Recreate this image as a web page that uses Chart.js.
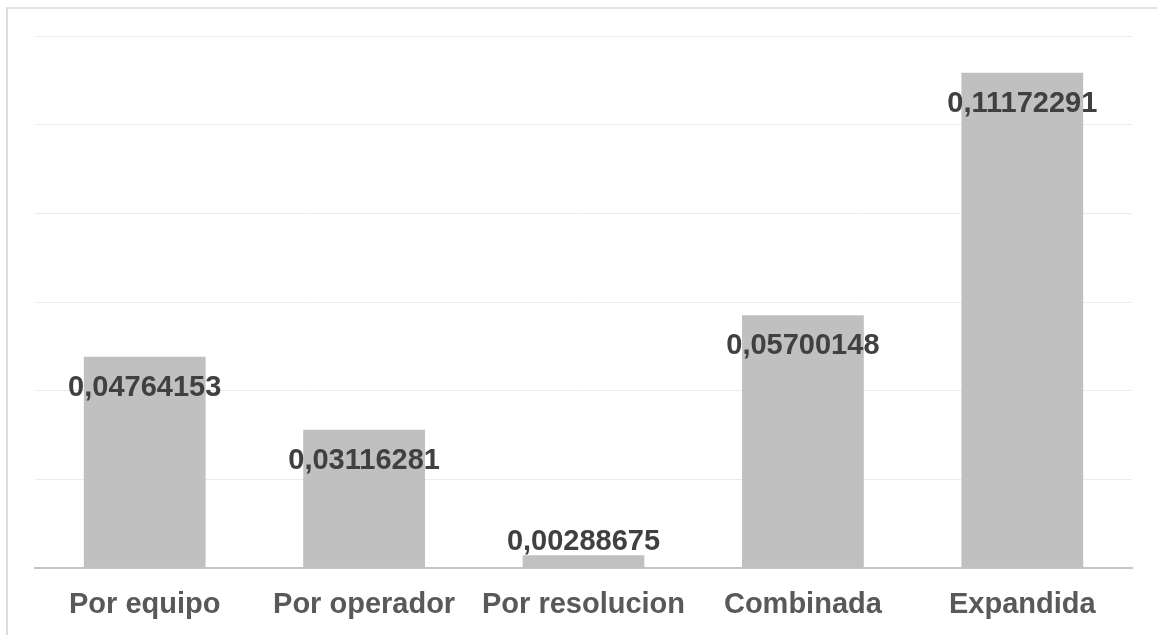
<!DOCTYPE html>
<html>
<head>
<meta charset="utf-8">
<script src="https://cdn.jsdelivr.net/npm/chart.js@4/dist/chart.umd.min.js"></script>
<style>
  html, body { margin: 0; padding: 0; background: #ffffff; overflow: hidden; }
  #wrap { position: relative; width: 1157px; height: 635px; overflow: hidden; }
  #frame {
    position: absolute; left: 6px; top: 7px; width: 1200px; height: 700px;
    border-left: 2px solid #dcdcdc; border-top: 2px solid #e2e2e2; box-sizing: border-box;
  }
  canvas { position: absolute; left: 0; top: 0; }
</style>
</head>
<body>
<div id="wrap">
  <div id="frame"></div>
  <canvas id="chart" width="1157" height="635"></canvas>
</div>
<script>
// Categories and values of the uncertainty components
const categories = ['Por equipo', 'Por operador', 'Por resolucion', 'Combinada', 'Expandida'];
const values = [0.04764153, 0.03116281, 0.00288675, 0.05700148, 0.11172291];
const valueLabels = ['0,04764153', '0,03116281', '0,00288675', '0,05700148', '0,11172291'];
const yMax = 0.12;
const yStep = 0.02;

const FONT = '"Liberation Sans", Arial, sans-serif';

// Value labels: inside the top of the bar, or just above it when the bar is too short
const valueLabelPlugin = {
  id: 'valueLabels',
  afterDatasetsDraw(chart) {
    const ctx = chart.ctx;
    const meta = chart.getDatasetMeta(0);
    ctx.save();
    ctx.font = 'bold 29px ' + FONT;
    ctx.fillStyle = '#404040';
    ctx.textAlign = 'center';
    ctx.textBaseline = 'middle';
    meta.data.forEach((bar, i) => {
      const h = bar.base - bar.y;
      const y = h > 45 ? bar.y + 31 : bar.y - 13;
      ctx.fillText(valueLabels[i], bar.x, y);
    });
    ctx.restore();
  }
};

new Chart(document.getElementById('chart'), {
  type: 'bar',
  data: {
    labels: categories,
    datasets: [{
      data: values,
      backgroundColor: '#c0c0c0',
      borderWidth: 0,
      categoryPercentage: 0.555,
      barPercentage: 1.0
    }]
  },
  options: {
    responsive: false,
    animation: false,
    devicePixelRatio: 1,
    layout: { padding: { left: 35, right: 25, top: 36, bottom: 15 } },
    plugins: {
      legend: { display: false },
      tooltip: { enabled: false }
    },
    scales: {
      x: {
        grid: { display: false, drawTicks: false },
        border: { display: true, color: '#c4c4c4', width: 2 },
        ticks: {
          color: '#595959',
          padding: 20,
          font: { family: FONT, size: 29, weight: 'bold' }
        },
        afterFit(scale) { scale.height = 52; }
      },
      y: {
        min: 0,
        max: yMax,
        ticks: { display: false, stepSize: yStep },
        grid: { color: '#ebebeb', lineWidth: 1, drawTicks: false },
        border: { display: false }
      }
    }
  },
  plugins: [valueLabelPlugin]
});
</script>
</body>
</html>
